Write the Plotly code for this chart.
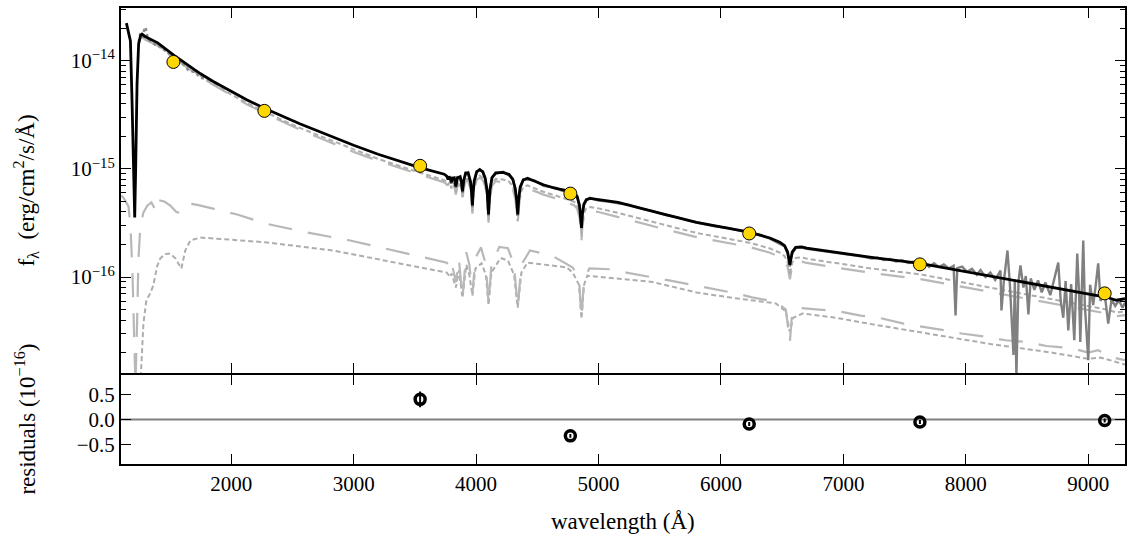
import numpy as np
import plotly.graph_objects as go

UNIT = 1e-16  # fluxes below are in units of 1e-16 erg/cm2/s/A

# ---- total model (black) ----
model_wave = [1144, 1160, 1177, 1190, 1203, 1212, 1220, 1231, 1244,
              1260, 1272, 1300, 1400, 1528, 1700, 1750,
              1850, 2000, 2130, 2271, 2400, 2560, 3000, 3200, 3540,
              3700, 3740, 3760, 3771, 3780, 3790, 3798, 3806, 3822, 3835, 3848, 3870, 3880, 3889, 3898, 3915,
              3935, 3955, 3964, 3970, 3976, 3985, 4005, 4030, 4055, 4075, 4090, 4097, 4102, 4107, 4114, 4130, 4160,
              4220, 4270, 4300, 4320, 4332, 4340, 4348, 4360, 4385, 4420, 4480, 4550, 4650,
              4770, 4800, 4825, 4845, 4855, 4861, 4868, 4880, 4900, 4930, 5000, 5160, 5500, 5800, 6231,
              6400, 6480, 6520, 6545, 6556, 6563, 6570, 6582, 6610, 6660, 6700,
              7230, 7625, 8380, 9030, 9150, 9230, 9300]
model_total = [224, 190, 153, 43, 10.3, 3.55, 10.3, 61, 144,
               172, 177, 167, 147, 114, 83, 76,
               65, 52, 43.6, 36.5, 31.4, 26.2, 16.6, 13.7, 10.3,
               9.2, 8.95, 8.6, 8.0, 8.5, 8.2, 7.5, 8.2, 8.3, 6.9, 8.3, 8.5, 7.6, 6.2, 7.7, 9.2,
               9.2, 7.6, 6.0, 4.6, 6.0, 7.8, 9.4, 9.9, 9.4, 8.2, 6.3, 4.9, 3.8, 4.9, 6.5, 8.3, 9.2,
               9.3, 8.9, 8.0, 6.6, 5.1, 3.8, 5.2, 6.8, 7.9, 8.2, 7.7, 7.15, 6.6,
               6.2, 6.0, 5.6, 4.6, 3.7, 2.85, 3.8, 4.7, 5.2, 5.35, 5.2, 4.9, 3.9, 3.2, 2.6,
               2.3, 2.1, 1.95, 1.7, 1.45, 1.3, 1.45, 1.7, 1.88, 1.9, 1.85,
               1.52, 1.34, 0.93, 0.69, 0.65, 0.61, 0.63]

# ---- upper light-gray models (same wavelengths as model_wave from 1260 A) ----
upper_wave = model_wave[9:]
upper_dotted = [165, 170, 160, 141, 109, 79.5, 72.5,
                62, 48.9, 40.7, 34.0, 29.0, 24.0, 15.1, 12.4, 9.26,
                8.1, 7.88, 7.57, 7.04, 7.48, 7.22, 6.6, 7.22, 7.3, 6.07, 7.3, 7.48, 6.69, 5.46, 6.78, 8.1,
                8.1, 6.69, 5.28, 4.05, 5.28, 6.86, 8.27, 8.71, 8.27, 7.22, 5.54, 4.31, 3.34, 4.31, 5.72, 7.3, 8.1,
                8.0, 7.65, 6.88, 5.68, 4.39, 3.27, 4.47, 5.85, 6.79, 7.05, 6.62, 6.15, 5.68,
                5.15, 4.98, 4.65, 3.82, 3.07, 2.37, 3.15, 3.9, 4.32, 4.44, 4.32,
                3.92, 3.12, 2.56, 2.08,
                1.84, 1.68, 1.56, 1.36, 1.16, 1.04, 1.16, 1.36, 1.5, 1.52, 1.48,
                1.2, 1.06, 0.725, 0.53, 0.50, 0.47, 0.48]
upper_dashed = [161, 166, 157, 138, 107, 78, 71,
                60.5, 47.8, 39.6, 32.9, 27.9, 23.1, 14.4, 11.9, 8.88,
                7.73, 7.52, 7.22, 6.72, 7.14, 6.89, 6.3, 6.89, 6.97, 5.8, 6.97, 7.14, 6.38, 5.21, 6.47, 7.73,
                7.73, 6.38, 5.04, 3.86, 5.04, 6.55, 7.9, 8.32, 7.9, 6.89, 5.29, 4.12, 3.19, 4.12, 5.46, 6.97, 7.73,
                7.53, 7.21, 6.48, 5.35, 4.13, 3.08, 4.21, 5.51, 6.4, 6.64, 6.24, 5.79, 5.35,
                4.77, 4.62, 4.31, 3.54, 2.85, 2.19, 2.93, 3.62, 4.0, 4.12, 4.0,
                3.58, 2.85, 2.34, 1.9,
                1.68, 1.53, 1.42, 1.24, 1.06, 0.95, 1.06, 1.24, 1.37, 1.39, 1.35,
                1.09, 0.96, 0.665, 0.49, 0.46, 0.435, 0.445]

# ---- lower components ----
lowdash_wave = [1104, 1120, 1161, 1177, 1193, 1205, 1218, 1230, 1242, 1258,
                1283, 1315, 1348, 1381, 1397, 1421, 1454, 1503, 1552, 1576,
                1617, 1666, 1723, 1853, 2049, 2293, 2627, 2970, 3296, 3540,
                3700, 3760, 3790, 3800, 3835, 3860, 3889, 3920, 3945, 3970,
                3995, 4040, 4080, 4102, 4125, 4190, 4260, 4310, 4340, 4370,
                4440, 4620, 4787, 4840, 4861, 4882, 4925, 5088, 5227, 5439,
                5577, 5781, 5920, 6123, 6254, 6449, 6530, 6563, 6580, 6612,
                6800, 6938, 7142, 7289, 7492, 7631, 7835, 7965, 8169, 8324,
                8511, 8658, 8862, 9000, 9080, 9200, 9300]
lowdash_flux = [5.67, 5.43, 4.5, 3.0, 1.15, 0.32, 0.1, 0.32, 1.42, 3.0,
                3.95, 4.58, 4.9, 4.2, 4.0, 5.1, 5.0, 4.58, 4.0, 3.95,
                4.58, 4.78, 4.66, 4.3, 3.79, 3.1, 2.58, 2.18, 1.80, 1.55,
                1.42, 1.36, 1.2, 1.35, 0.9, 1.45, 0.64, 1.7, 1.3, 0.71,
                1.5, 1.88, 1.3, 0.57, 1.3, 1.9, 1.85, 1.3, 0.52, 1.3,
                1.76, 1.58, 1.23, 1.0, 0.42, 0.95, 1.2, 1.18, 1.1, 1.0,
                0.93, 0.84, 0.785, 0.706, 0.648, 0.59, 0.5, 0.25, 0.45, 0.52,
                0.5, 0.486, 0.44, 0.42, 0.37, 0.35, 0.32, 0.30, 0.28, 0.26,
                0.25, 0.23, 0.22, 0.2, 0.21, 0.18, 0.17]
lowdot_wave = [1258, 1275, 1283, 1307, 1340, 1364, 1397, 1421, 1462, 1503,
               1544, 1593, 1625, 1666, 1747, 1992, 2293, 2831, 3377, 3700,
               3760, 3790, 3800, 3835, 3860, 3889, 3920, 3945, 3970, 3995,
               4045, 4080, 4102, 4125, 4200, 4260, 4310, 4340, 4370, 4420,
               4738, 4790, 4840, 4861, 4882, 4909, 5145, 5440, 5800, 6100,
               6449, 6530, 6563, 6590, 6667, 6800, 6938, 7207, 7700, 8200,
               8700, 9000, 9100, 9220, 9300]
lowdot_flux = [0.10, 0.21, 0.37, 0.61, 0.71, 0.84, 1.28, 1.49, 1.63, 1.65,
               1.49, 1.2, 1.76, 2.18, 2.32, 2.22, 2.09, 1.76, 1.34, 1.15,
               1.1, 1.0, 1.08, 0.8, 1.15, 0.64, 1.3, 1.05, 0.67, 1.2,
               1.34, 1.05, 0.55, 1.1, 1.5, 1.42, 1.05, 0.52, 1.1, 1.36,
               1.23, 1.1, 0.85, 0.41, 0.85, 1.03, 0.97, 0.9, 0.72, 0.64,
               0.57, 0.48, 0.31, 0.42, 0.46, 0.44, 0.42, 0.37, 0.30, 0.24,
               0.2, 0.175, 0.18, 0.165, 0.155]

# ---- observed spectra ----
uv_wave = [1245, 1260, 1275, 1290, 1300, 1320, 1350, 1380, 1420, 1460,
           1500, 1550, 1600, 1650, 1700, 1750, 1800]
uv_flux = [150, 185, 160, 195, 205, 160, 150, 141, 136, 124,
           114, 103, 96, 82, 79, 70, 68]
obs_wave = [3790, 3798, 3806, 3822, 3835, 3848, 3870, 3880, 3889, 3898, 3915,
            3935, 3955, 3964, 3970, 3976, 3985, 4005, 4030, 4055, 4075, 4090, 4097, 4102, 4107, 4114, 4130, 4160,
            4220, 4270, 4300, 4320, 4332, 4340, 4348, 4360, 4385, 4420, 4480, 4550, 4650, 4700,
            4770, 4800, 4825, 4845, 4855, 4861, 4868, 4880, 4900, 4930, 5000, 5080, 5160, 5250,
            5350, 5450, 5550, 5650, 5750, 5850, 5950, 6050, 6150, 6231, 6320, 6400,
            6480, 6520, 6545, 6556, 6563, 6570, 6582, 6610, 6660, 6700, 6800, 6880,
            6950, 7030, 7100, 7160, 7230, 7280, 7330, 7380, 7430, 7480, 7530, 7580, 7625,
            7660, 7700, 7740, 7780, 7820, 7860, 7900, 7916, 7930, 7970,
            8010, 8050, 8090, 8120, 8160, 8200, 8240, 8283, 8291, 8310,
            8340, 8360, 8389, 8400, 8413, 8430, 8446, 8470, 8490, 8511,
            8530, 8560, 8590, 8620, 8650, 8690, 8720, 8755, 8775, 8796,
            8815, 8837, 8860, 8886, 8910, 8925, 8935, 8959, 8972, 8984,
            9000, 9015, 9040, 9060, 9081, 9100, 9130, 9163, 9190, 9220,
            9250, 9280, 9300]
obs_flux = [8.1, 7.3, 8.3, 8.1, 6.7, 8.4, 8.3, 7.4, 6.0, 7.8, 9.0,
            9.3, 7.4, 5.8, 4.4, 6.1, 7.6, 9.5, 9.7, 9.5, 8.0, 6.1, 4.8, 3.7, 5.0, 6.3, 8.4, 9.0,
            9.4, 8.7, 8.1, 6.4, 5.0, 3.7, 5.3, 6.6, 8.0, 8.0, 7.8, 7.0, 6.7, 6.3,
            6.1, 6.05, 5.5, 4.5, 3.6, 2.8, 3.7, 4.6, 5.1, 5.4, 5.1, 5.0, 4.8, 4.65,
            4.3, 4.05, 3.75, 3.55, 3.3, 3.1, 2.95, 2.85, 2.7, 2.55, 2.45, 2.27,
            2.05, 1.92, 1.65, 1.4, 1.25, 1.42, 1.66, 1.85, 1.87, 1.82, 1.76, 1.72,
            1.66, 1.63, 1.58, 1.55, 1.48, 1.51, 1.44, 1.47, 1.39, 1.43, 1.35, 1.39, 1.31,
            1.38, 1.24, 1.34, 1.24, 1.31, 1.2, 1.27, 0.44, 1.21, 1.25,
            1.12, 1.19, 1.05, 1.16, 1.0, 1.1, 0.94, 1.15, 0.49, 0.9,
            1.76, 0.85, 0.19, 0.95, 0.12, 0.9, 1.28, 0.8, 1.02, 0.45,
            0.97, 0.76, 0.93, 0.72, 0.89, 0.68, 0.96, 1.36, 0.6, 0.42,
            0.92, 0.32, 0.86, 0.26, 1.65, 0.7, 0.25, 2.18, 0.55, 0.30,
            0.17, 0.85, 0.55, 0.82, 1.34, 0.6, 0.76, 0.37, 0.62, 0.54,
            0.61, 0.52, 0.58]

# ---- photometry ----
phot_wave = [1528, 2271, 3543, 4770, 6231, 7625, 9134]
phot_flux = [97.9, 34.5, 10.7, 5.92, 2.53, 1.31, 0.706]

# ---- residuals (units of 1e-16) ----
res_wave = [3543, 4770, 6231, 7625, 9134]
res_val = [0.41, -0.33, -0.09, -0.05, -0.02]
res_err = [0.16, 0.04, 0.04, 0.04, 0.04]

x_ticks = [2000, 3000, 4000, 5000, 6000, 7000, 8000, 9000]
y_ticks = [1e-16, 1e-15, 1e-14]
y_ticktext = ["10<sup>\u221216</sup>", "10<sup>\u221215</sup>", "10<sup>\u221214</sup>"]
res_ticks = [-0.5, 0.0, 0.5]
res_ticktext = ["\u22120.5", "0.0", "0.5"]


def f(a):
    return np.array(a, dtype=float) * UNIT


LIGHT = "#b8b8b8"
LIGHT2 = "#adadad"
DARK = "#808080"
FONT = "Liberation Serif"
TICKFONT = dict(family=FONT, size=21, color="black")
TITLEFONT = dict(family=FONT, size=23, color="black")

fig = go.Figure()
fig.add_trace(go.Scatter(x=lowdot_wave, y=f(lowdot_flux), mode="lines",
                         line=dict(color=LIGHT2, width=2, dash="5px,3px")))
fig.add_trace(go.Scatter(x=lowdash_wave, y=f(lowdash_flux), mode="lines",
                         line=dict(color=LIGHT, width=2.2, dash="24px,16px")))
fig.add_trace(go.Scatter(x=upper_wave, y=f(upper_dashed), mode="lines",
                         line=dict(color=LIGHT, width=2.2, dash="24px,16px")))
fig.add_trace(go.Scatter(x=upper_wave, y=f(upper_dotted), mode="lines",
                         line=dict(color=LIGHT2, width=2, dash="5px,3px")))
fig.add_trace(go.Scatter(x=uv_wave, y=f(uv_flux), mode="lines",
                         line=dict(color="#8c8c8c", width=2.5, dash="3px,3px")))
fig.add_trace(go.Scatter(x=obs_wave, y=f(obs_flux), mode="lines",
                         line=dict(color=DARK, width=2.4)))
fig.add_trace(go.Scatter(x=model_wave, y=f(model_total), mode="lines",
                         line=dict(color="black", width=2.8)))
fig.add_trace(go.Scatter(x=phot_wave, y=f(phot_flux), mode="markers",
                         marker=dict(color="#FFD700", size=13,
                                     line=dict(color="black", width=1))))

fig.add_trace(go.Scatter(x=[1100, 9300], y=[0, 0], mode="lines",
                         line=dict(color=DARK, width=2), xaxis="x2", yaxis="y2"))
fig.add_trace(go.Scatter(x=res_wave, y=res_val, mode="markers",
                         error_y=dict(type="data", array=res_err, color="black",
                                      thickness=2, width=0),
                         marker=dict(symbol="circle-open", color="black", size=10,
                                     line=dict(color="black", width=3.5)),
                         xaxis="x2", yaxis="y2"))

axis_common = dict(showline=True, linecolor="black", linewidth=2, mirror="ticks",
                   ticks="inside", ticklen=10, tickwidth=1.3, tickcolor="black",
                   showgrid=False, zeroline=False, tickfont=TICKFONT)
plot_h = 457.0
split = 91.0 / plot_h
res_top = split - 2.0 / plot_h

fig.update_layout(
    width=1133, height=538,
    margin=dict(l=121, r=6, t=7, b=74),
    paper_bgcolor="white", plot_bgcolor="white",
    showlegend=False,
    font=dict(family=FONT, size=21, color="black"),
    xaxis=dict(domain=[0, 1], anchor="y", range=[1100, 9300], tickvals=x_ticks,
               showticklabels=False, matches="x2", **axis_common),
    yaxis=dict(domain=[split, 1], anchor="x", type="log", range=[-16.89, -13.51],
               tickvals=y_ticks, ticktext=y_ticktext,
               minor=dict(ticks="inside", ticklen=5, tickwidth=1, tickcolor="black",
                          dtick="D1", showgrid=False),
               **axis_common),
    xaxis2=dict(domain=[0, 1], anchor="y2", range=[1100, 9300], tickvals=x_ticks,
                ticktext=[str(v) for v in x_ticks], **axis_common),
    yaxis2=dict(domain=[0, res_top], anchor="x2", range=[-0.9, 0.9],
                tickvals=res_ticks, ticktext=res_ticktext, **axis_common),
    annotations=[
        dict(text="f<sub>\u03bb</sub>  (erg/cm<sup>2</sup>/s/\u00c5)", xref="paper", yref="paper",
             x=0, y=(1 + split) / 2, xshift=-95, xanchor="center", yanchor="middle",
             textangle=-90, showarrow=False, font=TITLEFONT),
        dict(text="residuals (10<sup>\u221216</sup>)", xref="paper", yref="paper",
             x=0, y=res_top / 2, xshift=-95, xanchor="center", yanchor="middle",
             textangle=-90, showarrow=False, font=TITLEFONT),
        dict(text="wavelength (\u00c5)", xref="paper", yref="paper",
             x=0.5, y=0, yshift=-57, xanchor="center", yanchor="middle",
             showarrow=False, font=TITLEFONT),
    ],
)

fig.write_html("out.html", config={"displayModeBar": False},
               post_script="document.body.style.margin='0px';document.body.style.overflow='hidden';")
